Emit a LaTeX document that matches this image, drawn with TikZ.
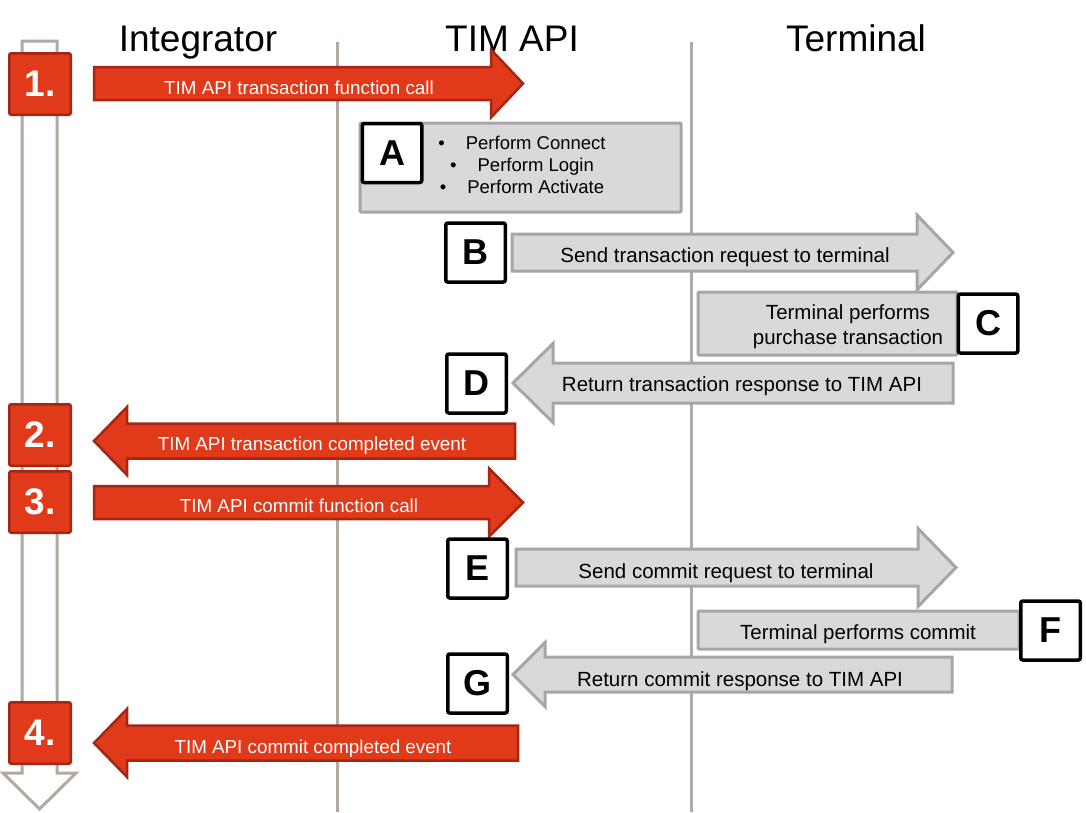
\documentclass[tikz,border=0pt]{standalone}
\usepackage{fontspec}
\setmainfont{Liberation Sans}
\usetikzlibrary{positioning}
\definecolor{tred}{RGB}{224,58,26}
\definecolor{tredline}{RGB}{165,38,18}
\definecolor{tgray}{RGB}{217,217,217}
\definecolor{tgrayline}{RGB}{166,166,166}
\definecolor{tline}{RGB}{178,170,160}
% block arrow: style, tail x, head base x, tip x, centre y, shaft half, head half
\newcommand{\blockarrow}[7]{\draw[#1] (#2,#5-#6) -- (#3,#5-#6) -- (#3,#5-#7) -- (#4,#5) -- (#3,#5+#7) -- (#3,#5+#6) -- (#2,#5+#6) -- cycle;}

\begin{document}
\begin{tikzpicture}[x=1pt, y=-1pt,
    lifeline/.style={draw=tline, line width=3pt},
    timeline/.style={draw=tline, fill=white, line width=3pt},
    numbox/.style={draw=tredline, fill=tred, line width=2.5pt, rounded corners=2pt, minimum width=61.5pt, minimum height=61.5pt, inner sep=0pt, text=white, font=\fontsize{37}{40}\selectfont\bfseries},
    letterbox/.style={draw=black, fill=white, line width=3.5pt, rounded corners=2pt, minimum width=59.5pt, minimum height=59pt, inner sep=0pt, font=\fontsize{36}{40}\selectfont\bfseries},
    panel/.style={draw=tgrayline, fill=tgray, line width=3pt, rounded corners=1pt},
    redarrow/.style={draw=tredline, fill=tred, line width=2.5pt},
    grayarrow/.style={draw=tgrayline, fill=tgray, line width=3pt},
    redtext/.style={anchor=base, text=white, inner sep=0pt, font=\fontsize{18.8}{22}\selectfont},
    graytext/.style={inner sep=0pt, align=center, font=\fontsize{20.5}{25}\selectfont},
    title/.style={anchor=base, inner sep=0pt, font=\fontsize{37}{40}\selectfont},
]
\useasboundingbox (0,0) rectangle (1086,812);

% lifelines
\coordinate (apitop) at (337,42);
\coordinate (apibottom) at (337,812);
\coordinate (termtop) at (691,42);
\coordinate (termbottom) at (691,812);
\draw[lifeline] (apitop) -- (apibottom);
\draw[lifeline] (termtop) -- (termbottom);

\node[title] (integrator) at (198,51) {Integrator};
\node[title] (timapi) at (512,51) {TIM API};
\node[title] (terminal) at (856,51) {Terminal};

% time axis
\draw[timeline] (22,41) -- (57,41) -- (57,773) -- (76,773) -- (39.5,809) -- (3,773) -- (22,773) -- cycle;

% integrator steps
\blockarrow{redarrow}{94}{491}{523}{83.5}{16.5}{34}
\blockarrow{redarrow}{515}{127}{94}{441}{17.5}{34}
\blockarrow{redarrow}{94}{489}{523}{502.5}{16.5}{34}
\blockarrow{redarrow}{518}{127}{94}{743}{17.5}{34}

\node[numbox] (step1) at (40,84) {1.};
\node[numbox] (step2) at (40,435) {2.};
\node[numbox] (step3) at (40,502) {3.};
\node[numbox] (step4) at (40,733) {4.};

\node[redtext] (call1) at (299,94.5) {TIM API transaction function call};
\node[redtext] (event2) at (312,450) {TIM API transaction completed event};
\node[redtext] (call3) at (299,512) {TIM API commit function call};
\node[redtext] (event4) at (313,753) {TIM API commit completed event};

% api and terminal steps
\draw[panel] (360,123) rectangle (681,212);
\draw[panel] (698,292) rectangle (957,355);
\draw[panel] (698,611) rectangle (1019,649);

\blockarrow{grayarrow}{512}{917}{953}{252.5}{18.5}{37.5}
\blockarrow{grayarrow}{953}{553}{513}{383}{20}{39.5}
\blockarrow{grayarrow}{516}{918}{956}{567.5}{18.5}{39}
\blockarrow{grayarrow}{952}{545}{513}{674.5}{17.5}{32}

\node[letterbox] (stepA) at (392,153) {A};
\node[letterbox] (stepB) at (475.5,252.5) {B};
\node[letterbox] (stepC) at (988,323.5) {C};
\node[letterbox] (stepD) at (476.5,383.5) {D};
\node[letterbox] (stepE) at (477.5,568.5) {E};
\node[letterbox] (stepF) at (1050.5,630.5) {F};
\node[letterbox] (stepG) at (477.5,683.5) {G};

\node[graytext, font=\fontsize{18.5}{22}\selectfont] (connect) at (522,164.6)
  {\textbullet\hspace{21pt}Perform Connect\\\textbullet\hspace{21pt}Perform Login\\\textbullet\hspace{21pt}Perform Activate};
\node[graytext, anchor=base] (sendtrx) at (725,262) {Send transaction request to terminal};
\node[graytext] (purchase) at (848,327) {Terminal performs\\purchase transaction};
\node[graytext, anchor=base] (returntrx) at (742,391) {Return transaction response to TIM API};
\node[graytext, anchor=base] (sendcommit) at (726,578) {Send commit request to terminal};
\node[graytext, anchor=base] (commit) at (858,639) {Terminal performs commit};
\node[graytext, anchor=base] (returncommit) at (740,686) {Return commit response to TIM API};
\end{tikzpicture}
\end{document}
